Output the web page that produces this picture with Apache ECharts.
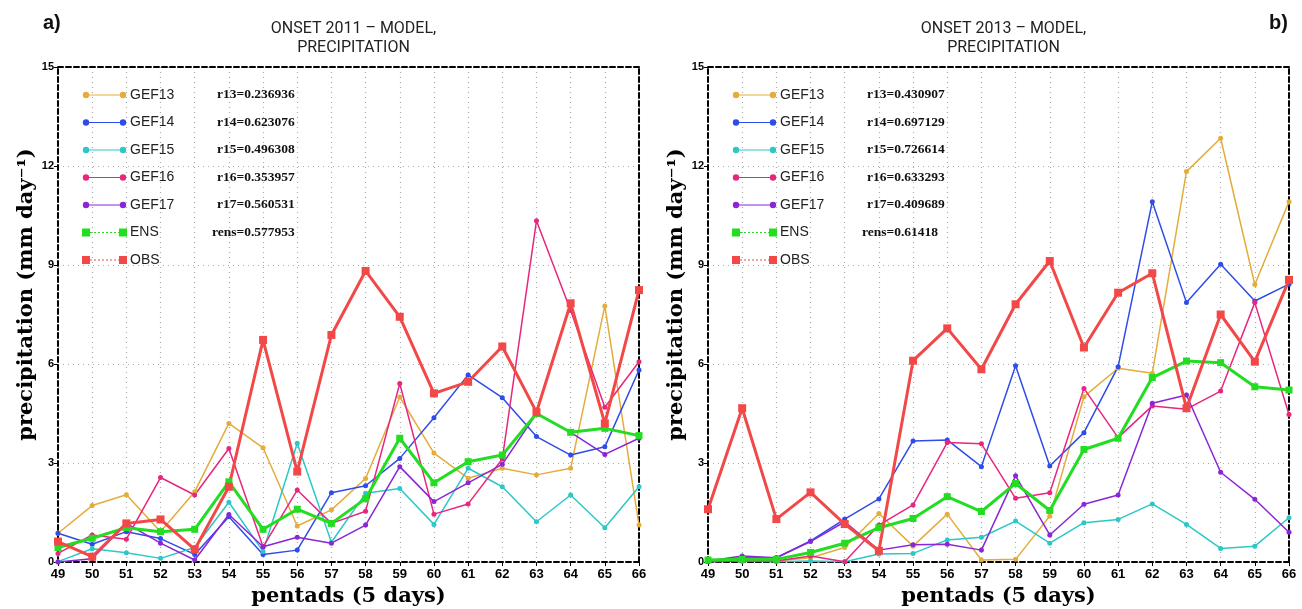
<!DOCTYPE html>
<html><head><meta charset="utf-8">
<script src="https://cdn.jsdelivr.net/npm/echarts@6/dist/echarts.min.js"></script>
<style>html,body{margin:0;padding:0;background:#fff}#c{width:1302px;height:609px}</style>
</head><body><div id="c"></div>
<script>
const pentads = ['49','50','51','52','53','54','55','56','57','58','59','60','61','62','63','64','65','66'];
const yTicks = [0,3,6,9,12,15];
const seriesNames = ['GEF13','GEF14','GEF15','GEF16','GEF17','ENS','OBS'];

// Panel a) ONSET 2011
const a_GEF13 = [0.87,1.71,2.04,0.92,2.13,4.2,3.46,1.09,1.58,2.53,5.0,3.3,2.54,2.84,2.64,2.84,7.76,1.12];
const a_GEF14 = [0.87,0.54,0.92,0.71,0.23,1.37,0.23,0.36,2.1,2.31,3.14,4.37,5.67,4.98,3.8,3.24,3.49,5.82];
const a_GEF15 = [0.01,0.4,0.28,0.11,0.44,1.81,0.32,3.6,0.6,2.08,2.23,1.14,2.84,2.28,1.22,2.03,1.04,2.28];
const a_GEF16 = [0.26,0.82,0.69,2.56,2.03,3.44,0.46,2.18,1.17,1.54,5.41,1.45,1.76,3.12,10.34,7.62,4.69,6.07];
const a_GEF17 = [0.0,0.1,1.17,0.57,0.06,1.44,0.46,0.75,0.57,1.12,2.89,1.83,2.4,2.96,4.5,3.93,3.26,3.75];
const a_ENS   = [0.44,0.72,1.04,0.92,0.99,2.43,0.99,1.6,1.17,1.92,3.75,2.4,3.04,3.24,4.5,3.93,4.05,3.83];
const a_OBS   = [0.62,0.16,1.17,1.29,0.38,2.28,6.73,2.74,6.88,8.82,7.43,5.11,5.46,6.53,4.54,7.84,4.2,8.24];
const a_r = ['r13=0.236936','r14=0.623076','r15=0.496308','r16=0.353957','r17=0.560531','rens=0.577953'];

// Panel b) ONSET 2013
const b_GEF13 = [0.03,0.03,0.03,0.13,0.44,1.47,0.48,1.45,0.06,0.08,1.39,5.01,5.87,5.72,11.83,12.84,8.41,10.92];
const b_GEF14 = [0.03,0.13,0.13,0.64,1.3,1.91,3.67,3.7,2.89,5.95,2.91,3.92,5.92,10.92,7.86,9.02,7.91,8.42];
const b_GEF15 = [0.01,0.03,0.01,0.03,0.01,0.24,0.26,0.67,0.75,1.24,0.57,1.19,1.29,1.76,1.14,0.41,0.48,1.34];
const b_GEF16 = [0.01,0.03,0.03,0.18,0.01,1.12,1.73,3.62,3.58,1.93,2.1,5.26,3.77,4.73,4.63,5.18,7.86,4.47];
const b_GEF17 = [0.03,0.18,0.13,0.62,1.22,0.36,0.52,0.54,0.36,2.61,0.82,1.75,2.03,4.81,5.06,2.72,1.9,0.9];
const b_ENS   = [0.06,0.08,0.08,0.29,0.57,1.04,1.32,1.98,1.53,2.38,1.56,3.41,3.75,5.59,6.09,6.04,5.31,5.21];
const b_OBS   = [1.6,4.66,1.3,2.11,1.15,0.34,6.1,7.08,5.84,7.81,9.12,6.5,8.16,8.75,4.66,7.5,6.07,8.55];
const b_r = ['r13=0.430907','r14=0.697129','r15=0.726614','r16=0.633293','r17=0.409689','rens=0.61418'];

const colors = ['#E4AC3A','#2E4CEA','#2CC8C8','#E8267E','#8A26D6','#22DD22','#F24848'];

const chart = echarts.init(document.getElementById('c'));
const panels = [
  {left:58, title:'ONSET 2011 – MODEL,\nPRECIPITATION', data:[a_GEF13,a_GEF14,a_GEF15,a_GEF16,a_GEF17,a_ENS,a_OBS], r:a_r},
  {left:708, title:'ONSET 2013 – MODEL,\nPRECIPITATION', data:[b_GEF13,b_GEF14,b_GEF15,b_GEF16,b_GEF17,b_ENS,b_OBS], r:b_r}
];
const gridW = 581, gridTop = 67, gridH = 495;
const grids=[], xAxes=[], yAxes=[], series=[], titles=[], graphics=[];
const dashedLine = {show:true, onZero:false, lineStyle:{color:'#000', width:2, type:[5,3]}};
const nameFont = {color:'#000', fontWeight:'bold', fontSize:21, fontFamily:'DejaVu Serif'};
panels.forEach((p, i) => {
  grids.push({left:p.left, top:gridTop, width:gridW, height:gridH, containLabel:false, outerBoundsMode:'none'});
  xAxes.push({gridIndex:i, type:'category', data:pentads, boundaryGap:false, position:'bottom',
    axisLine:dashedLine, axisTick:{show:true, length:4, lineStyle:{color:'#000'}},
    axisLabel:{color:'#000', fontWeight:'bold', fontSize:13, fontFamily:'Liberation Sans', margin:6, interval:0},
    splitLine:{show:true, lineStyle:{color:'#aaa', type:[1,4], width:1.2}},
    name:'pentads (5 days)', nameLocation:'middle', nameGap:22, nameTextStyle:nameFont});
  xAxes.push({gridIndex:i, type:'category', data:pentads, boundaryGap:false, position:'top',
    axisLine:dashedLine, axisTick:{show:false}, axisLabel:{show:false}, splitLine:{show:false}});
  yAxes.push({gridIndex:i, type:'value', min:0, max:15, interval:3, position:'left',
    axisLine:dashedLine, axisTick:{show:true, length:4, lineStyle:{color:'#000'}},
    axisLabel:{color:'#000', fontWeight:'bold', fontSize:11, fontFamily:'Liberation Sans', margin:4,
      formatter: v => yTicks.includes(v) ? String(v) : ''},
    splitLine:{show:true, lineStyle:{color:'#aaa', type:[1,4], width:1.2}},
    name:'precipitation (mm day⁻¹)', nameLocation:'middle', nameGap:21,
    nameTextStyle:Object.assign({}, nameFont, {padding:[0,0,0,40]})});
  yAxes.push({gridIndex:i, type:'value', min:0, max:15, interval:3, position:'right',
    axisLine:dashedLine, axisTick:{show:false}, axisLabel:{show:false}, splitLine:{show:false}});
  p.data.forEach((d, k) => {
    const isThick = k >= 5;
    series.push({name:seriesNames[k], type:'line', xAxisIndex:i*2, yAxisIndex:i*2, data:d,
      symbol: isThick ? 'rect' : 'circle', symbolSize: isThick ? (k===6?8:7) : 5,
      lineStyle:{color:colors[k], width: isThick ? 3 : 1.5},
      itemStyle:{color:colors[k]}, z: isThick ? 3 : 2, animation:false, silent:true});
  });
  titles.push({text:p.title, left:p.left + gridW/2, top:14, textAlign:'center',
    textStyle:{fontSize:16, fontWeight:'normal', color:'#222', fontFamily:'Roboto', lineHeight:19}});
  // legend drawn in-plot
  const lx = p.left + 28, rowH = 27.5, ly0 = 95;
  for (let k = 0; k < 7; k++) {
    const y = ly0 + k*rowH;
    const thick = k >= 5;
    graphics.push({type:'line', shape:{x1:lx, y1:y, x2:lx+37, y2:y},
      style:{stroke:colors[k], lineWidth:1, lineDash: thick ? [2,2] : null}, z:10});
    [lx, lx+37].forEach(x => {
      if (thick) graphics.push({type:'rect', shape:{x:x-4, y:y-4, width:8, height:8}, style:{fill:colors[k]}, z:11});
      else graphics.push({type:'circle', shape:{cx:x, cy:y, r:3.2}, style:{fill:colors[k]}, z:11});
    });
    graphics.push({type:'text', x:lx+44, y:y, style:{text:seriesNames[k], fill:'#222', font:'14px "Liberation Sans"', textVerticalAlign:'middle'}, z:11});
    if (k < 6) {
      graphics.push({type:'text', x: p.left + (k===5 ? 154 : 159), y:y,
        style:{text:p.r[k], fill:'#111', font:'bold 13.5px "Liberation Serif"', textVerticalAlign:'middle'}, z:11});
    }
  }
});
titles.push({text:'a)', left:38, top:8, textStyle:{fontSize:20, fontWeight:'bold', color:'#111', fontFamily:'Liberation Sans'}});
titles.push({text:'b)', left:1264, top:8, textStyle:{fontSize:20, fontWeight:'bold', color:'#111', fontFamily:'Liberation Sans'}});

chart.setOption({animation:false, backgroundColor:'#fff', title:titles, grid:grids, xAxis:xAxes, yAxis:yAxes, series:series, graphic:graphics});
</script></body></html>
